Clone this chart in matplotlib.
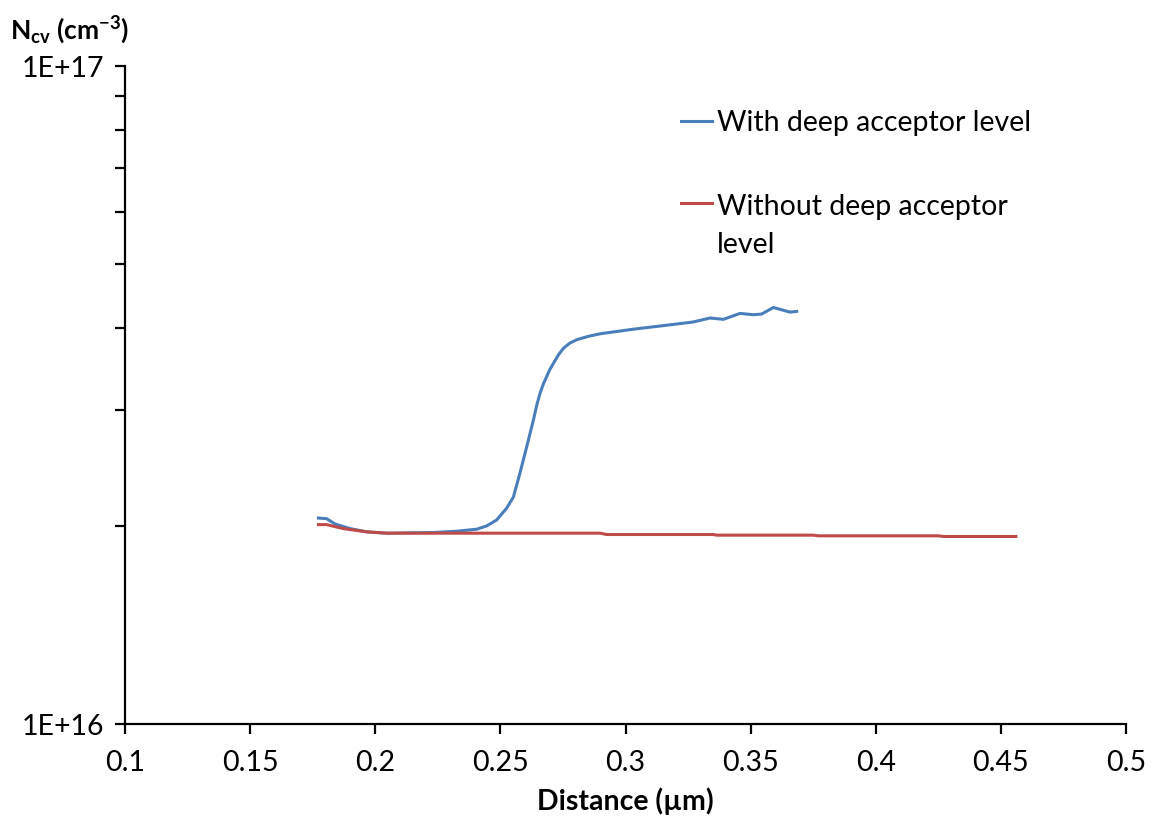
import matplotlib
matplotlib.use("Agg")
import numpy as np
import matplotlib.pyplot as plt
from matplotlib.ticker import FixedLocator, LogLocator, NullFormatter
from matplotlib.legend_handler import HandlerLine2D

plt.rcParams['font.family'] = ['Lato', 'DejaVu Sans']
plt.rcParams['mathtext.fontset'] = 'custom'
plt.rcParams['mathtext.rm'] = 'Lato'
plt.rcParams['mathtext.bf'] = 'Lato:bold'

# Data (distance in um, Ncv as log10 of cm^-3)
with_x = [0.1773, 0.1806, 0.1839, 0.1899, 0.1966, 0.2046, 0.2232, 0.2326, 0.2405, 0.2445,
          0.2485, 0.2525, 0.2552, 0.2578, 0.2605, 0.2632, 0.2645, 0.2658, 0.2672, 0.2685,
          0.2698, 0.2712, 0.2732, 0.2752, 0.2778, 0.2805, 0.2850, 0.2898, 0.3031, 0.3164,
          0.3271, 0.3338, 0.3391, 0.3458, 0.3511, 0.3544, 0.3591, 0.3657, 0.3684]
with_log = [16.313, 16.312, 16.304, 16.297, 16.292, 16.290, 16.291, 16.293, 16.296, 16.301,
            16.310, 16.328, 16.345, 16.381, 16.421, 16.462, 16.484, 16.502, 16.517, 16.528,
            16.539, 16.548, 16.561, 16.571, 16.579, 16.584, 16.589, 16.593, 16.600, 16.606,
            16.611, 16.617, 16.615, 16.624, 16.622, 16.623, 16.633, 16.626, 16.627]
without_x = [0.1773, 0.1806, 0.1872, 0.1966, 0.2046, 0.2898, 0.2925, 0.3350, 0.3365, 0.3750,
             0.3770, 0.4250, 0.4270, 0.4560]
without_log = [16.303, 16.303, 16.297, 16.292, 16.290, 16.290, 16.288, 16.288, 16.287, 16.287,
               16.286, 16.286, 16.285, 16.285]

with_y = [10 ** v for v in with_log]
without_y = [10 ** v for v in without_log]

x_ticks = [0.1, 0.15, 0.2, 0.25, 0.3, 0.35, 0.4, 0.45, 0.5]
x_tick_labels = ["0.1", "0.15", "0.2", "0.25", "0.3", "0.35", "0.4", "0.45", "0.5"]
y_ticks = [1e16, 1e17]
y_tick_labels = ["1E+16", "1E+17"]

blue = "#4A7EBB"
red = "#BE4B48"


class ShiftedHandler(HandlerLine2D):
    def __init__(self, dy=0.0, **kw):
        super().__init__(**kw)
        self.dy = dy

    def create_artists(self, legend, orig_handle, xdescent, ydescent, width, height,
                       fontsize, trans):
        arts = super().create_artists(legend, orig_handle, xdescent, ydescent, width,
                                      height, fontsize, trans)
        for a in arts:
            a.set_ydata(np.asarray(a.get_ydata()) + self.dy)
        return arts


fig = plt.figure(figsize=(11.53, 8.21), dpi=100)
ax = fig.add_axes([125 / 1153, 1 - 724 / 821, 1001 / 1153, (724 - 66) / 821])

l1, = ax.plot(with_x, with_y, color=blue, lw=2.2, label="With deep acceptor level")
l2, = ax.plot(without_x, without_y, color=red, lw=2.2, label="Without deep acceptor\nlevel")

ax.set_yscale("log")
ax.set_xlim(0.1, 0.5)
ax.set_ylim(1e16, 1e17)

ax.xaxis.set_major_locator(FixedLocator(x_ticks))
ax.set_xticklabels(x_tick_labels)
ax.yaxis.set_major_locator(FixedLocator(y_ticks))
ax.set_yticklabels(y_tick_labels)
ax.yaxis.set_minor_locator(LogLocator(base=10, subs=range(2, 10)))
ax.yaxis.set_minor_formatter(NullFormatter())

for s in ["top", "right"]:
    ax.spines[s].set_visible(False)
for s in ["left", "bottom"]:
    ax.spines[s].set_linewidth(1.6)
    ax.spines[s].set_color("black")

ax.tick_params(axis="both", which="both", direction="out", length=7, width=1.6,
               labelsize=20.5, colors="black")
ax.tick_params(axis="x", pad=12)
ax.tick_params(axis="y", pad=8)

ax.text(-0.115, 1.055, r"$\mathbf{N_{cv}}$ (cm$^{\mathbf{-3}}$)", transform=ax.transAxes,
        fontsize=19, fontweight="bold", ha="left", va="center")
ax.set_xlabel("Distance (µm)", fontsize=20.5, fontweight="bold", labelpad=8)

leg = ax.legend(handles=[l1, l2], loc="upper left", bbox_to_anchor=(0.53, 0.972),
                frameon=False, fontsize=20.5, handlelength=1.1, handletextpad=0.15,
                labelspacing=2.04,
                handler_map={l2: ShiftedHandler(dy=17.0)})
leg.get_texts()[1].set_linespacing(1.57)

fig.savefig("out.png", dpi=100, facecolor="white")
